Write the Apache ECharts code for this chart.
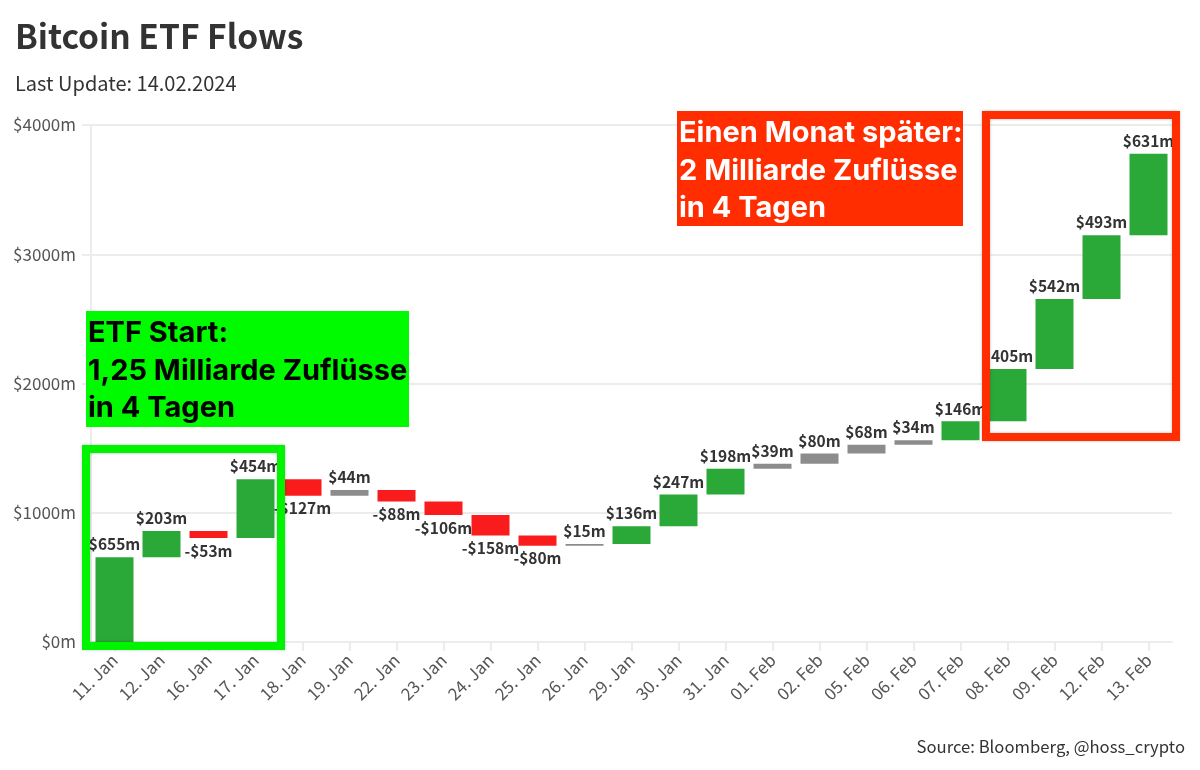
<!DOCTYPE html>
<html>
<head>
<meta charset="utf-8">
<title>Bitcoin ETF Flows</title>
<script src="https://cdn.jsdelivr.net/npm/echarts@6/dist/echarts.min.js"></script>
<style>
  html, body { margin: 0; padding: 0; background: #fff; }
  #chart { width: 1200px; height: 770px; }
</style>
</head>
<body>
<div id="chart"></div>
<script>
var days = ['11. Jan', '12. Jan', '16. Jan', '17. Jan', '18. Jan', '19. Jan', '22. Jan', '23. Jan', '24. Jan', '25. Jan', '26. Jan', '29. Jan', '30. Jan', '31. Jan', '01. Feb', '02. Feb', '05. Feb', '06. Feb', '07. Feb', '08. Feb', '09. Feb', '12. Feb', '13. Feb'];
var flows = [655, 203, -53, 454, -127, 44, -88, -106, -158, -80, 15, 136, 247, 198, 39, 80, 68, 34, 146, 405, 542, 493, 631];
var yTicks = [0, 1000, 2000, 3000, 4000];

var GREEN = '#2aa838', RED = '#fa1c1c', GREY = '#8c8c8c';
var FONT = '"Noto Sans CJK SC", "Noto Sans", sans-serif';

// Wasserfall: unsichtbarer Sockel + sichtbarer Balken
var bases = [], bars = [], total = 0;
flows.forEach(function (v) {
  var next = total + v;
  bases.push(Math.min(total, next));
  var color = v < 0 ? RED : (v < 100 ? GREY : GREEN);
  bars.push({
    value: Math.abs(v),
    itemStyle: { color: color },
    label: { position: v < 0 ? 'bottom' : 'top' }
  });
  total = next;
});

function money(v) {
  return (v < 0 ? '-$' : '$') + Math.abs(v) + 'm';
}

function frame(x, y, w, h, color) {
  return {
    type: 'rect', z: 100,
    shape: { x: x, y: y, width: w, height: h },
    style: { fill: 'none', stroke: color, lineWidth: 8, shadowBlur: 3, shadowColor: 'rgba(0,0,0,0.25)' }
  };
}

function box(x, y, w, h, color) {
  return {
    type: 'rect', z: 100,
    shape: { x: x, y: y, width: w, height: h },
    style: { fill: color }
  };
}

function note(x, y, text, color) {
  return {
    type: 'text', z: 101, x: x, y: y,
    style: {
      text: text, fill: color,
      font: '700 29px Inter, sans-serif',
      lineHeight: 37.5,
      verticalAlign: 'middle'
    }
  };
}

var chart = echarts.init(document.getElementById('chart'));

var option = {
  animation: false,
  backgroundColor: '#fff',
  title: [
    {
      text: 'Bitcoin ETF Flows',
      left: 10, top: 15,
      textStyle: { fontFamily: FONT, fontSize: 33.5, fontWeight: 700, color: '#333' }
    },
    {
      text: 'Last Update: 14.02.2024',
      left: 10, top: 68,
      textStyle: { fontFamily: FONT, fontSize: 20, fontWeight: 400, color: '#333' }
    },
    {
      text: 'Source: Bloomberg, @hoss_crypto',
      right: 10, top: 733,
      textStyle: { fontFamily: FONT, fontSize: 16.7, fontWeight: 400, color: '#333' }
    }
  ],
  grid: { left: 91, right: 28, top: 125, bottom: 128 },
  xAxis: {
    type: 'category',
    data: days,
    axisLine: { lineStyle: { color: '#ececec', width: 2 } },
    axisTick: { show: true, alignWithLabel: true, length: 9, lineStyle: { color: '#ececec', width: 2 } },
    axisLabel: { interval: 0, rotate: 45, fontFamily: FONT, fontSize: 17, color: '#555', margin: 15, padding: [8, 0, 0, 0] }
  },
  yAxis: {
    type: 'value',
    min: yTicks[0],
    max: yTicks[yTicks.length - 1],
    interval: 1000,
    axisLine: { show: true, lineStyle: { color: '#ececec', width: 2 } },
    axisTick: { show: true, length: 9, lineStyle: { color: '#ececec', width: 2 } },
    splitLine: { lineStyle: { color: '#ececec', width: 2 } },
    axisLabel: {
      fontFamily: FONT, fontSize: 17, color: '#555', margin: 15,
      formatter: function (v) { return '$' + v + 'm'; }
    }
  },
  series: [
    {
      type: 'bar',
      stack: 'flow',
      data: bases,
      barWidth: 38,
      itemStyle: { color: 'transparent' },
      silent: true
    },
    {
      type: 'bar',
      stack: 'flow',
      data: bars,
      barWidth: 38,
      label: {
        show: true,
        distance: 5,
        fontFamily: FONT,
        fontSize: 15.5,
        fontWeight: 700,
        color: '#333',
        formatter: function (p) { return money(flows[p.dataIndex]); }
      }
    }
  ],
  // Anmerkungen aus dem Original
  graphic: [
    frame(86, 449, 195, 197, '#00f400'),
    box(86, 311, 323, 116, '#00fa00'),
    note(88, 371, 'ETF Start:\n1,25 Milliarde Zuflüsse\nin 4 Tagen', '#000'),
    frame(986, 115, 190, 322, '#ff2d00'),
    box(677, 111, 286, 115, '#ff2d00'),
    note(679, 171, 'Einen Monat später:\n2 Milliarde Zuflüsse\nin 4 Tagen', '#fff')
  ]
};

chart.setOption(option);
</script>
</body>
</html>
